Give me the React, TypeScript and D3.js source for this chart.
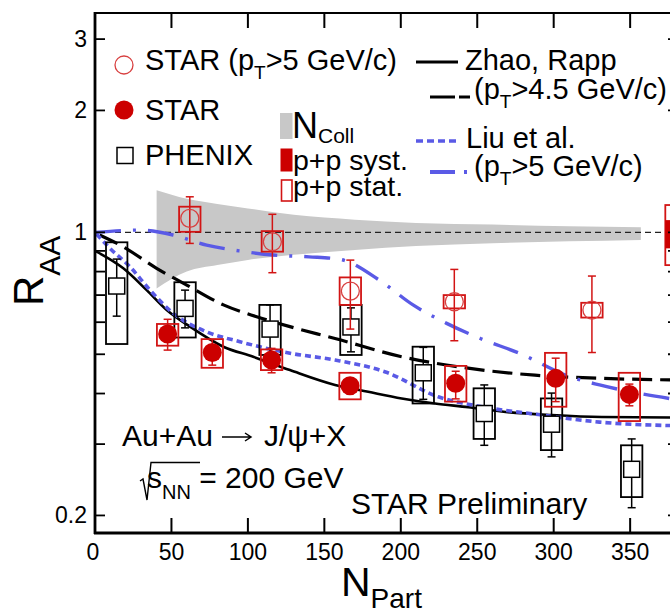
import React from 'react';
import * as d3 from 'd3';

// STAR, pT > 5 GeV/c (open circles)
const starHiN = [62, 116, 167, 235, 325];
const starHiR = [1.083, 0.948, 0.716, 0.674, 0.643];
const starHiErrHi = [1.224, 1.108, 0.854, 0.81, 0.78];
const starHiErrLo = [0.939, 0.795, 0.577, 0.54, 0.505];
const starHiSysHi = [1.157, 1.007, 0.774, 0.7, 0.67];
const starHiSysLo = [1.003, 0.896, 0.662, 0.649, 0.616];

// STAR, all pT (filled circles)
const starN = [47.5, 76.7, 115.5, 166.8, 235.9, 301.3, 349.5];
const starR = [0.561, 0.505, 0.484, 0.418, 0.424, 0.436, 0.398];
const starErrHi = [0.61, 0.544, 0.517, 0.435, 0.454, 0.489, 0.422];
const starErrLo = [0.512, 0.47, 0.45, 0.4, 0.388, 0.382, 0.373];
const starSysHi = [0.594, 0.545, 0.514, 0.45, 0.468, 0.504, 0.45];
const starSysLo = [0.525, 0.463, 0.457, 0.387, 0.382, 0.371, 0.342];

// PHENIX (open squares)
const phxN = [14.2, 58.9, 114.5, 167.4, 214.7, 254.6, 298.6, 351];
const phxR = [0.737, 0.649, 0.577, 0.584, 0.45, 0.357, 0.336, 0.26];
const phxErrHi = [0.859, 0.72, 0.662, 0.651, 0.52, 0.42, 0.401, 0.309];
const phxErrLo = [0.621, 0.581, 0.498, 0.507, 0.387, 0.298, 0.279, 0.209];
const phxSysHi = [0.945, 0.753, 0.662, 0.662, 0.522, 0.412, 0.389, 0.298];
const phxSysLo = [0.53, 0.55, 0.498, 0.498, 0.378, 0.309, 0.29, 0.222];

// p+p reference at the right edge
const ppN = 380;
const ppStat = [0.83, 1.168];
const ppSyst = [0.913, 1.072];

// N_coll uncertainty band
const bandN = [40.3, 60, 80, 100, 130, 170, 210, 260, 310, 357];
const bandHi = [1.27, 1.21, 1.175, 1.146, 1.105, 1.075, 1.055, 1.045, 1.035, 1.03];
const bandLo = [0.727, 0.8, 0.83, 0.855, 0.88, 0.905, 0.925, 0.94, 0.95, 0.958];

// model curves
const zhaoN = [0, 18.5, 33.8, 46.9, 62.1, 83.9, 103.5, 127.5, 157, 178.7, 200.6, 222.4, 244.1, 266, 298.7, 331.4, 381];
const zhaoR = [0.9, 0.815, 0.72, 0.643, 0.585, 0.522, 0.493, 0.457, 0.42, 0.404, 0.389, 0.378, 0.37, 0.361, 0.354, 0.35, 0.349];
const zhaoHiN = [3, 18.5, 40.3, 60, 84, 105.7, 127.5, 157, 200.6, 244, 287.7, 331.4, 381];
const zhaoHiR = [0.985, 0.921, 0.815, 0.741, 0.662, 0.619, 0.585, 0.547, 0.493, 0.462, 0.444, 0.436, 0.432];
const liuN = [1, 9.8, 22.9, 36, 51.2, 73, 94.8, 127.5, 157, 190, 225, 255, 290, 330, 381];
const liuR = [0.99, 0.913, 0.822, 0.72, 0.631, 0.568, 0.537, 0.503, 0.484, 0.452, 0.392, 0.37, 0.355, 0.34, 0.333];
const liuHiN = [0, 29, 51, 73, 95, 116.6, 140, 160, 186, 208, 230, 252, 278, 310.7, 330, 381];
const liuHiR = [1.0, 1.013, 0.985, 0.93, 0.899, 0.879, 0.87, 0.858, 0.762, 0.662, 0.596, 0.547, 0.502, 0.44, 0.42, 0.386];

const xTicks = [0, 50, 100, 150, 200, 250, 300, 350];
const yTicks = [0.2, 0.3, 0.4, 0.5, 0.6, 0.7, 0.8, 0.9, 1, 2, 3];
const yLabels = [0.2, 1, 2, 3];

const W = 670;
const H = 613;
const FONT = 'Liberation Sans, Arial, Helvetica, sans-serif';
const RED = '#d21414';
const BLUE = '#5a5ae6';
const LEG = 29;

const x = d3.scaleLinear().domain([0, 381.3]).range([95, 678]);
const y = d3.scaleLog().domain([0.181, 3.48]).range([533, 13]);

const halfBox = 7; // box half-width in N_part units

const App = () => {
  const line = (xs: number[], ys: number[]) =>
    d3.line<number>()
      .x((d, i) => x(xs[i]))
      .y(d => y(d))
      .curve(d3.curveMonotoneX)(ys) || '';

  const band = d3.area<number>()
    .x((d, i) => x(bandN[i]))
    .y0((d, i) => y(bandLo[i]))
    .y1(d => y(d))
    .curve(d3.curveMonotoneX)(bandHi) || '';

  const box = (n: number, lo: number, hi: number, color: string, key: string) => (
    <rect key={key} x={x(n - halfBox)} y={y(hi)} width={x(n + halfBox) - x(n - halfBox)}
      height={y(lo) - y(hi)} fill="none" stroke={color} strokeWidth={1.8} />
  );
  const errBar = (n: number, lo: number, hi: number, color: string, key: string) => (
    <g key={key} stroke={color} strokeWidth={1.5}>
      <line x1={x(n)} x2={x(n)} y1={y(hi)} y2={y(lo)} />
      <line x1={x(n) - 4} x2={x(n) + 4} y1={y(hi)} y2={y(hi)} />
      <line x1={x(n) - 4} x2={x(n) + 4} y1={y(lo)} y2={y(lo)} />
    </g>
  );

  return (
    <svg width={W} height={H} style={{ position: 'absolute', left: 0, top: 0, background: '#fff' }}
      fontFamily={FONT}>
      <defs>
        <clipPath id="plot"><rect x={95} y={13} width={583} height={520} /></clipPath>
      </defs>

      <g clipPath="url(#plot)">
        <path d={band} fill="#c8c8c8" />
        <line x1={95} x2={678} y1={y(1)} y2={y(1)} stroke="#222" strokeWidth={1.3} strokeDasharray="6 4" />

        <path d={line(zhaoN, zhaoR)} fill="none" stroke="#000" strokeWidth={2.6} />
        <path d={line(zhaoHiN, zhaoHiR)} fill="none" stroke="#000" strokeWidth={3.2} strokeDasharray="20 8" />
        <path d={line(liuN, liuR)} fill="none" stroke={BLUE} strokeWidth={3.6} strokeDasharray="6 4" />
        <path d={line(liuHiN, liuHiR)} fill="none" stroke={BLUE} strokeWidth={3.4} strokeDasharray="26 12 3 12" />

        {phxN.map((n, i) => box(n, phxSysLo[i], phxSysHi[i], '#000', 'pb' + i))}
        {phxN.map((n, i) => errBar(n, phxErrLo[i], phxErrHi[i], '#000', 'pe' + i))}
        {phxN.map((n, i) => (
          <rect key={'pm' + i} x={x(n) - 8} y={y(phxR[i]) - 8} width={16} height={16}
            fill="#fff" stroke="#000" strokeWidth={1.5} />
        ))}

        {starHiN.map((n, i) => box(n, starHiSysLo[i], starHiSysHi[i], RED, 'hb' + i))}
        {starHiN.map((n, i) => errBar(n, starHiErrLo[i], starHiErrHi[i], RED, 'he' + i))}
        {starHiN.map((n, i) => (
          <circle key={'hm' + i} cx={x(n)} cy={y(starHiR[i])} r={9} fill="none" stroke="#d84040" strokeWidth={1.3} />
        ))}

        {starN.map((n, i) => box(n, starSysLo[i], starSysHi[i], RED, 'sb' + i))}
        {starN.map((n, i) => errBar(n, starErrLo[i], starErrHi[i], RED, 'se' + i))}
        {starN.map((n, i) => (
          <circle key={'sm' + i} cx={x(n)} cy={y(starR[i])} r={9.5} fill="#cc0000" />
        ))}

        {box(ppN, ppStat[0], ppStat[1], RED, 'pps')}
        <rect x={x(ppN - halfBox)} y={y(ppSyst[1])} width={x(ppN + halfBox) - x(ppN - halfBox)}
          height={y(ppSyst[0]) - y(ppSyst[1])} fill="#cc0000" />
      </g>

      {/* axes frame */}
      <g stroke="#000">
        <line x1={95} x2={95} y1={12} y2={534} strokeWidth={2.8} />
        <line x1={94} x2={W} y1={533} y2={533} strokeWidth={2.8} />
        <line x1={94} x2={W} y1={13} y2={13} strokeWidth={2} />
        {xTicks.filter(t => t > 0).map(t => (
          <g key={'xt' + t} strokeWidth={2}>
            <line x1={x(t)} x2={x(t)} y1={533} y2={518} />
            <line x1={x(t)} x2={x(t)} y1={13} y2={28} />
          </g>
        ))}
        {yTicks.map(t => (
          <g key={'yt' + t} strokeWidth={1.8}>
            <line x1={95} x2={105} y1={y(t)} y2={y(t)} />
            <line x1={668} x2={678} y1={y(t)} y2={y(t)} />
          </g>
        ))}
      </g>
      {xTicks.map(t => (
        <text key={'xl' + t} x={x(t) - (t === 0 ? 2 : 0)} y={560} fontSize={23} textAnchor="middle">{t}</text>
      ))}
      {yLabels.map(t => (
        <text key={'yl' + t} x={87} y={y(t) + 8} fontSize={23} textAnchor="end">{t}</text>
      ))}

      {/* axis titles */}
      <text transform="translate(43,306) rotate(-90)" fontSize={42}>
        R<tspan fontSize={30} dy={17}>AA</tspan>
      </text>
      <text x={341} y={596} fontSize={41}>
        N<tspan fontSize={28} dy={12}>Part</tspan>
      </text>

      {/* left legend */}
      <circle cx={124} cy={65} r={9} fill="none" stroke="#d84040" strokeWidth={1.3} />
      <text x={145} y={70} fontSize={LEG}>
        STAR (p<tspan fontSize={19} dy={9}>T</tspan><tspan dy={-9}>&gt;5 GeV/c)</tspan>
      </text>
      <circle cx={124} cy={110} r={9.5} fill="#cc0000" />
      <text x={145} y={120} fontSize={LEG}>STAR</text>
      <rect x={117} y={147.5} width={16} height={16} fill="none" stroke="#000" strokeWidth={1.5} />
      <text x={145} y={165} fontSize={LEG}>PHENIX</text>

      <rect x={280} y={113} width={12.5} height={26} fill="#c8c8c8" />
      <text x={292} y={138} fontSize={36}>
        N<tspan fontSize={21} dy={5}>Coll</tspan>
      </text>
      <rect x={280.5} y={148.5} width={12} height={23} fill="#cc0000" />
      <text x={293} y={170} fontSize={28.5}>p+p syst.</text>
      <rect x={281.5} y={180} width={10.5} height={21} fill="none" stroke={RED} strokeWidth={1.6} />
      <text x={293} y={196} fontSize={28.5}>p+p stat.</text>

      {/* right legend */}
      <line x1={416} x2={458} y1={62} y2={62} stroke="#000" strokeWidth={3} />
      <text x={465} y={70} fontSize={LEG}>Zhao, Rapp</text>
      <line x1={430} x2={470} y1={97} y2={97} stroke="#000" strokeWidth={3.2} strokeDasharray="25 4 11 20" />
      <text x={474} y={99} fontSize={LEG}>
        (p<tspan fontSize={19} dy={9}>T</tspan><tspan dy={-9}>&gt;4.5 GeV/c)</tspan>
      </text>
      <line x1={416} x2={458} y1={141} y2={141} stroke={BLUE} strokeWidth={3.6} strokeDasharray="7 4" />
      <text x={466} y={148} fontSize={LEG}>Liu et al.</text>
      <line x1={430} x2={470} y1={172} y2={172} stroke={BLUE} strokeWidth={4} strokeDasharray="25 9 3 20" />
      <text x={474} y={176} fontSize={LEG}>
        (p<tspan fontSize={19} dy={9}>T</tspan><tspan dy={-9}>&gt;5 GeV/c)</tspan>
      </text>

      {/* annotations */}
      <text x={122} y={446} fontSize={30}>Au+Au</text>
      <path d="M222,437 L251,437 M245,433 L251,437 L245,441" fill="none" stroke="#000" strokeWidth={1.5} />
      <text x={264} y={446} fontSize={30}>J/ψ+X</text>
      <path d="M140,481 L143,479 L147,500 L151,462.5 L200,462.5" fill="none" stroke="#000" strokeWidth={1.4} />
      <text x={147} y={488} fontSize={30}>
        s<tspan fontSize={20} dy={11}>NN</tspan><tspan dy={-11}> = 200 GeV</tspan>
      </text>
      <text x={351} y={514} fontSize={30}>STAR Preliminary</text>
    </svg>
  );
};

export default App;
